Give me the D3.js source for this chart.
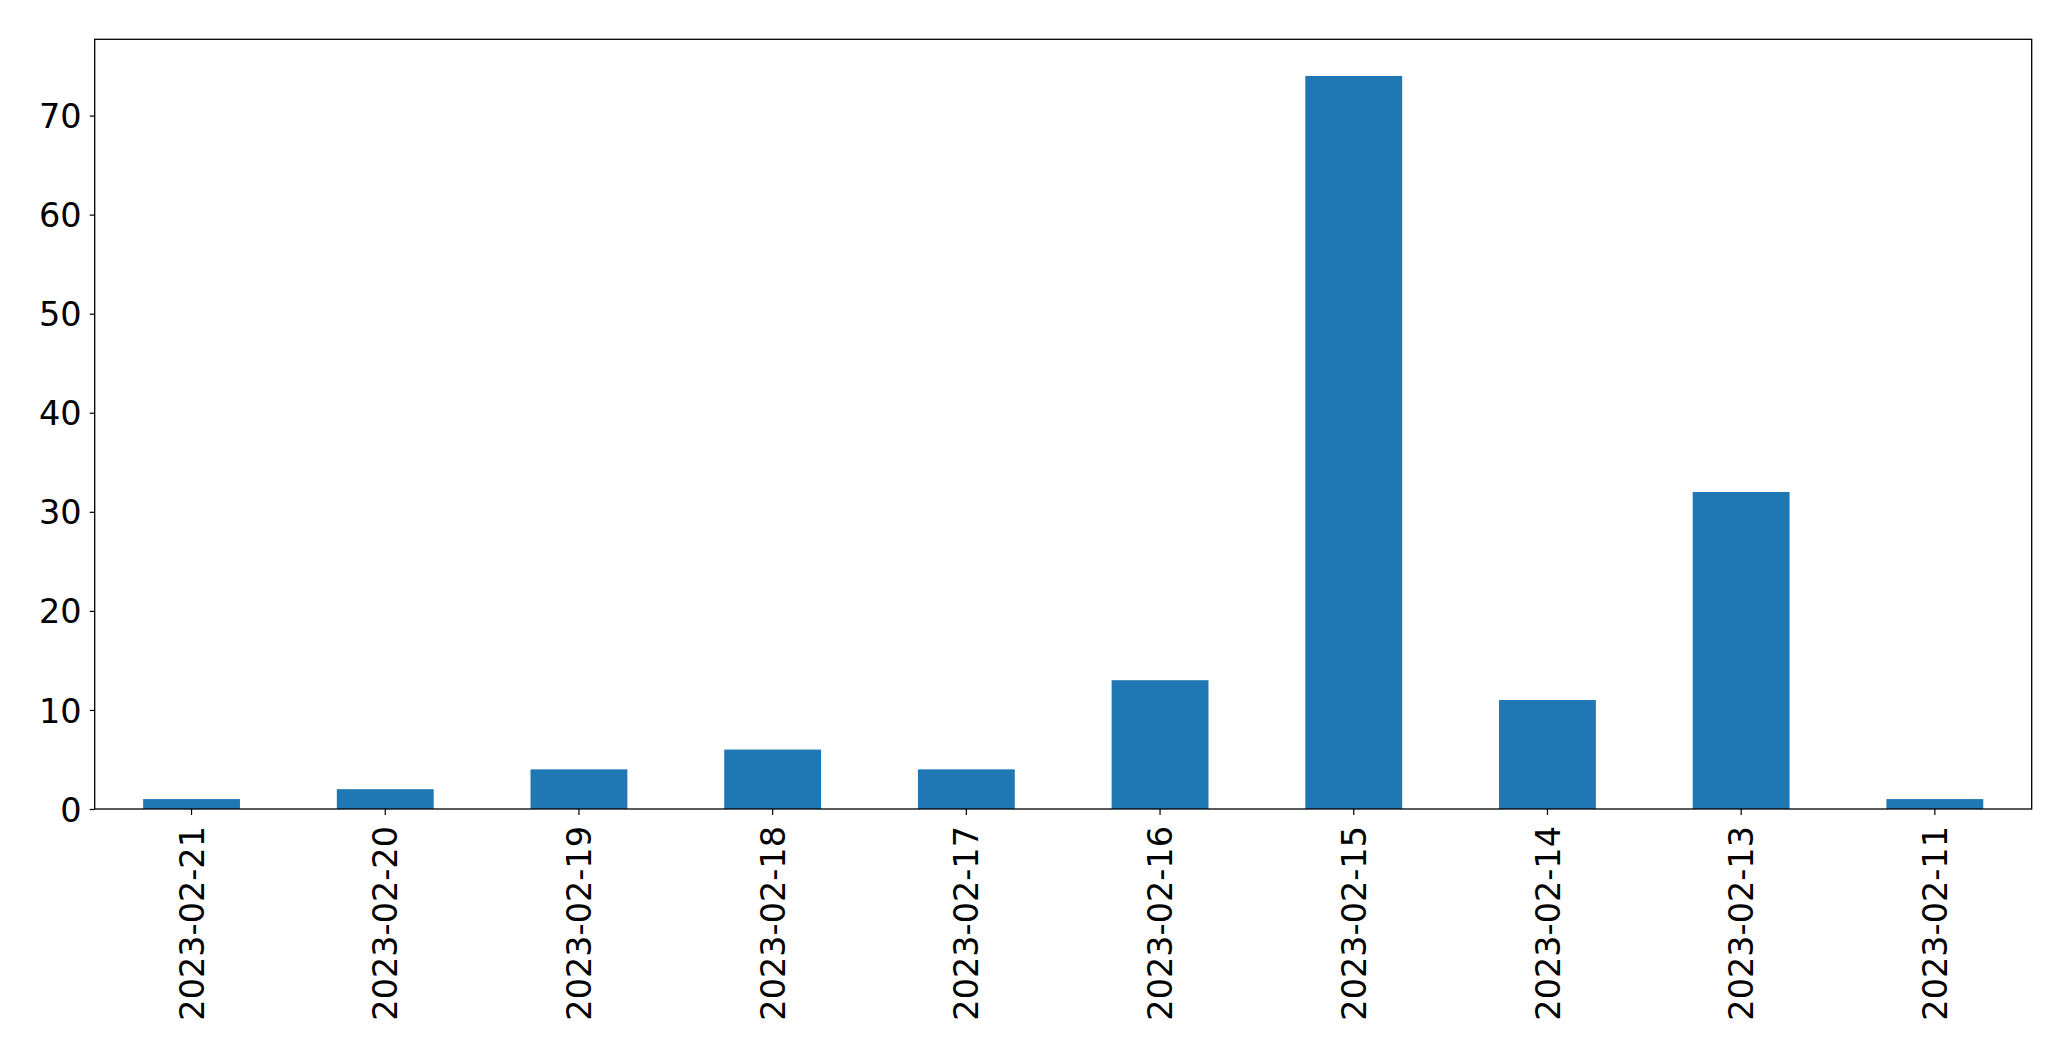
<!DOCTYPE html>
<html>
<head>
<meta charset="utf-8">
<script src="https://cdn.jsdelivr.net/npm/d3@7"></script>
<style>
  html, body { margin: 0; padding: 0; background: #ffffff; }
  svg { display: block; }
  .tick text { font-family: "DejaVu Sans", sans-serif; font-size: 33.5px; fill: #000; }
</style>
</head>
<body>
<svg id="chart" width="2071" height="1061"></svg>
<script>
const categories = ["2023-02-21","2023-02-20","2023-02-19","2023-02-18","2023-02-17","2023-02-16","2023-02-15","2023-02-14","2023-02-13","2023-02-11"];
const values = [1, 2, 4, 6, 4, 13, 74, 11, 32, 1];
const yTicks = [0, 10, 20, 30, 40, 50, 60, 70];

const W = 2071, H = 1061;
const margin = { left: 94.7, right: 2071 - 2031.7, top: 39.3, bottom: 1061 - 809 };
const iw = W - margin.left - margin.right;
const ih = H - margin.top - margin.bottom;

const svg = d3.select("#chart");
const g = svg.append("g").attr("transform", `translate(${margin.left},${margin.top})`);

const x = d3.scaleBand().domain(categories).range([0, iw]).paddingInner(0.5).paddingOuter(0.25);
const yMax = d3.max(values) * 1.05;
const y = d3.scaleLinear().domain([0, yMax]).range([ih, 0]);

g.selectAll("rect.bar").data(values).join("rect")
  .attr("class", "bar")
  .attr("x", (d, i) => x(categories[i]))
  .attr("y", d => y(d))
  .attr("width", x.bandwidth())
  .attr("height", d => ih - y(d))
  .attr("fill", "#1f77b4");

const yAxis = g.append("g")
  .call(d3.axisLeft(y).tickValues(yTicks).tickFormat(d3.format("d")).tickSize(5).tickPadding(8));
yAxis.select(".domain").remove();
yAxis.selectAll(".tick line").attr("stroke", "#000").attr("stroke-width", 1.2);
yAxis.selectAll(".tick text").attr("dy", "0.36em");

const xAxis = g.append("g").attr("transform", `translate(0,${ih})`)
  .call(d3.axisBottom(x).tickSize(6).tickPadding(0));
xAxis.select(".domain").remove();
xAxis.selectAll(".tick line").attr("stroke", "#000").attr("stroke-width", 1.2);
xAxis.selectAll(".tick text")
  .attr("text-anchor", "end")
  .attr("transform", "translate(0,17) rotate(-90)")
  .attr("x", 0).attr("y", 0)
  .attr("dy", "0.36em");

g.append("rect")
  .attr("x", 0).attr("y", 0).attr("width", iw).attr("height", ih)
  .attr("fill", "none").attr("stroke", "#000").attr("stroke-width", 1.3);
</script>
</body>
</html>
